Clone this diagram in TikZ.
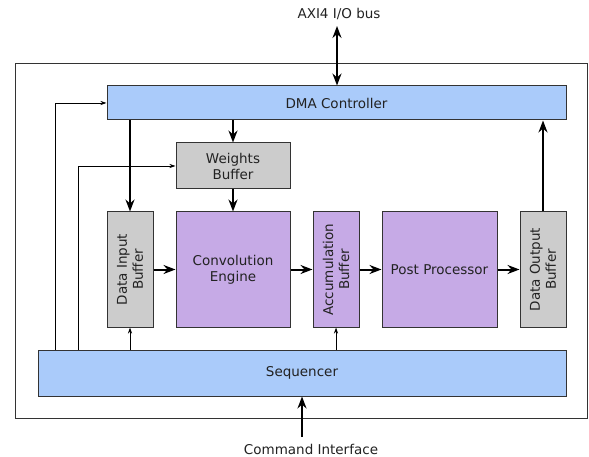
\documentclass[tikz,border=0pt]{standalone}
\usepackage{fontspec}
\setmainfont{DejaVu Sans}
\usetikzlibrary{arrows.meta}
\definecolor{ctrlblue}{HTML}{AACBFA}
\definecolor{bufgray}{HTML}{CCCCCC}
\definecolor{procpurple}{HTML}{C6AAE6}
\definecolor{edge}{HTML}{333333}
\definecolor{ink}{HTML}{222222}
\tikzset{
  blk/.style={draw=edge, line width=1pt, inner sep=0pt, align=center,
    text=ink, font=\fontsize{13.5}{16}\selectfont},
  ctrl/.style={blk, fill=ctrlblue},
  buf/.style={blk, fill=bufgray},
  proc/.style={blk, fill=procpurple},
  bigtip/.tip={Stealth[length=12pt,width=9pt,inset=4pt]},
  smalltip/.tip={Stealth[length=6pt,width=4pt,inset=2pt]},
  datapath/.style={line width=2pt, -bigtip},
  ctrlpath/.style={line width=0.8pt, -smalltip},
  lbl/.style={text=ink, font=\fontsize{13.5}{16}\selectfont, inner sep=0pt}
}
\begin{document}
\begin{tikzpicture}[x=1pt,y=-1pt]
\useasboundingbox (0,0) rectangle (589,457);
% enclosing frame
\draw[edge, line width=0.8pt] (15,63) rectangle (587.5,418);

% blocks
\node[ctrl, minimum width=459pt, minimum height=34pt] (dma) at (336.5,103) {DMA Controller};
\node[buf, minimum width=114pt, minimum height=46pt] (wb) at (233,166) {Weights\\Buffer};
\node[buf, minimum width=46pt, minimum height=115pt] (dib) at (130,269.5) {};
\node[rotate=90, lbl, align=center] at (dib.center) {Data Input\\Buffer};
\node[proc, minimum width=114pt, minimum height=115pt] (conv) at (233,269.5) {Convolution\\Engine};
\node[proc, minimum width=46pt, minimum height=115pt] (acc) at (336,269.5) {};
\node[rotate=90, lbl, align=center] at (acc.center) {Accumulation\\Buffer};
\node[proc, minimum width=115pt, minimum height=115pt] (pp) at (439.5,269.5) {Post Processor};
\node[buf, minimum width=46pt, minimum height=115pt] (dob) at (543,269.5) {};
\node[rotate=90, lbl, align=center] at (dob.center) {Data Output\\Buffer};
\node[ctrl, minimum width=528pt, minimum height=46pt] (seq) at (302,373) {Sequencer};

% external interfaces
\node[lbl] (axi) at (339,14) {AXI4 I/O bus};
\node[lbl] (cmd) at (311,449) {Command Interface};
\coordinate (axitop) at (337,26);
\coordinate (cmdbot) at (302,437);

% data paths
\draw[line width=2pt, bigtip-bigtip] (axitop) -- (axitop |- dma.north);
\draw[datapath] (cmdbot) -- (cmdbot |- seq.south);
\draw[datapath] (dib.north |- dma.south) -- (dib.north);
\draw[datapath] (wb.north |- dma.south) -- (wb.north);
\draw[datapath] (wb.south) -- (conv.north);
\draw[datapath] (dib.east) -- (conv.west);
\draw[datapath] (conv.east) -- (acc.west);
\draw[datapath] (acc.east) -- (pp.west);
\draw[datapath] (pp.east) -- (dob.west);
\draw[datapath] (dob.north) -- (dob.north |- dma.south);

% control paths from the sequencer
\coordinate (c1) at (55,0);
\coordinate (c2) at (78,0);
\draw[ctrlpath] (c1 |- seq.north) -- (c1 |- dma.west) -- (dma.west);
\draw[ctrlpath] (c2 |- seq.north) -- (c2 |- wb.west) -- (wb.west);
\draw[ctrlpath] (dib.south |- seq.north) -- (dib.south);
\draw[ctrlpath] (acc.south |- seq.north) -- (acc.south);
\end{tikzpicture}
\end{document}
